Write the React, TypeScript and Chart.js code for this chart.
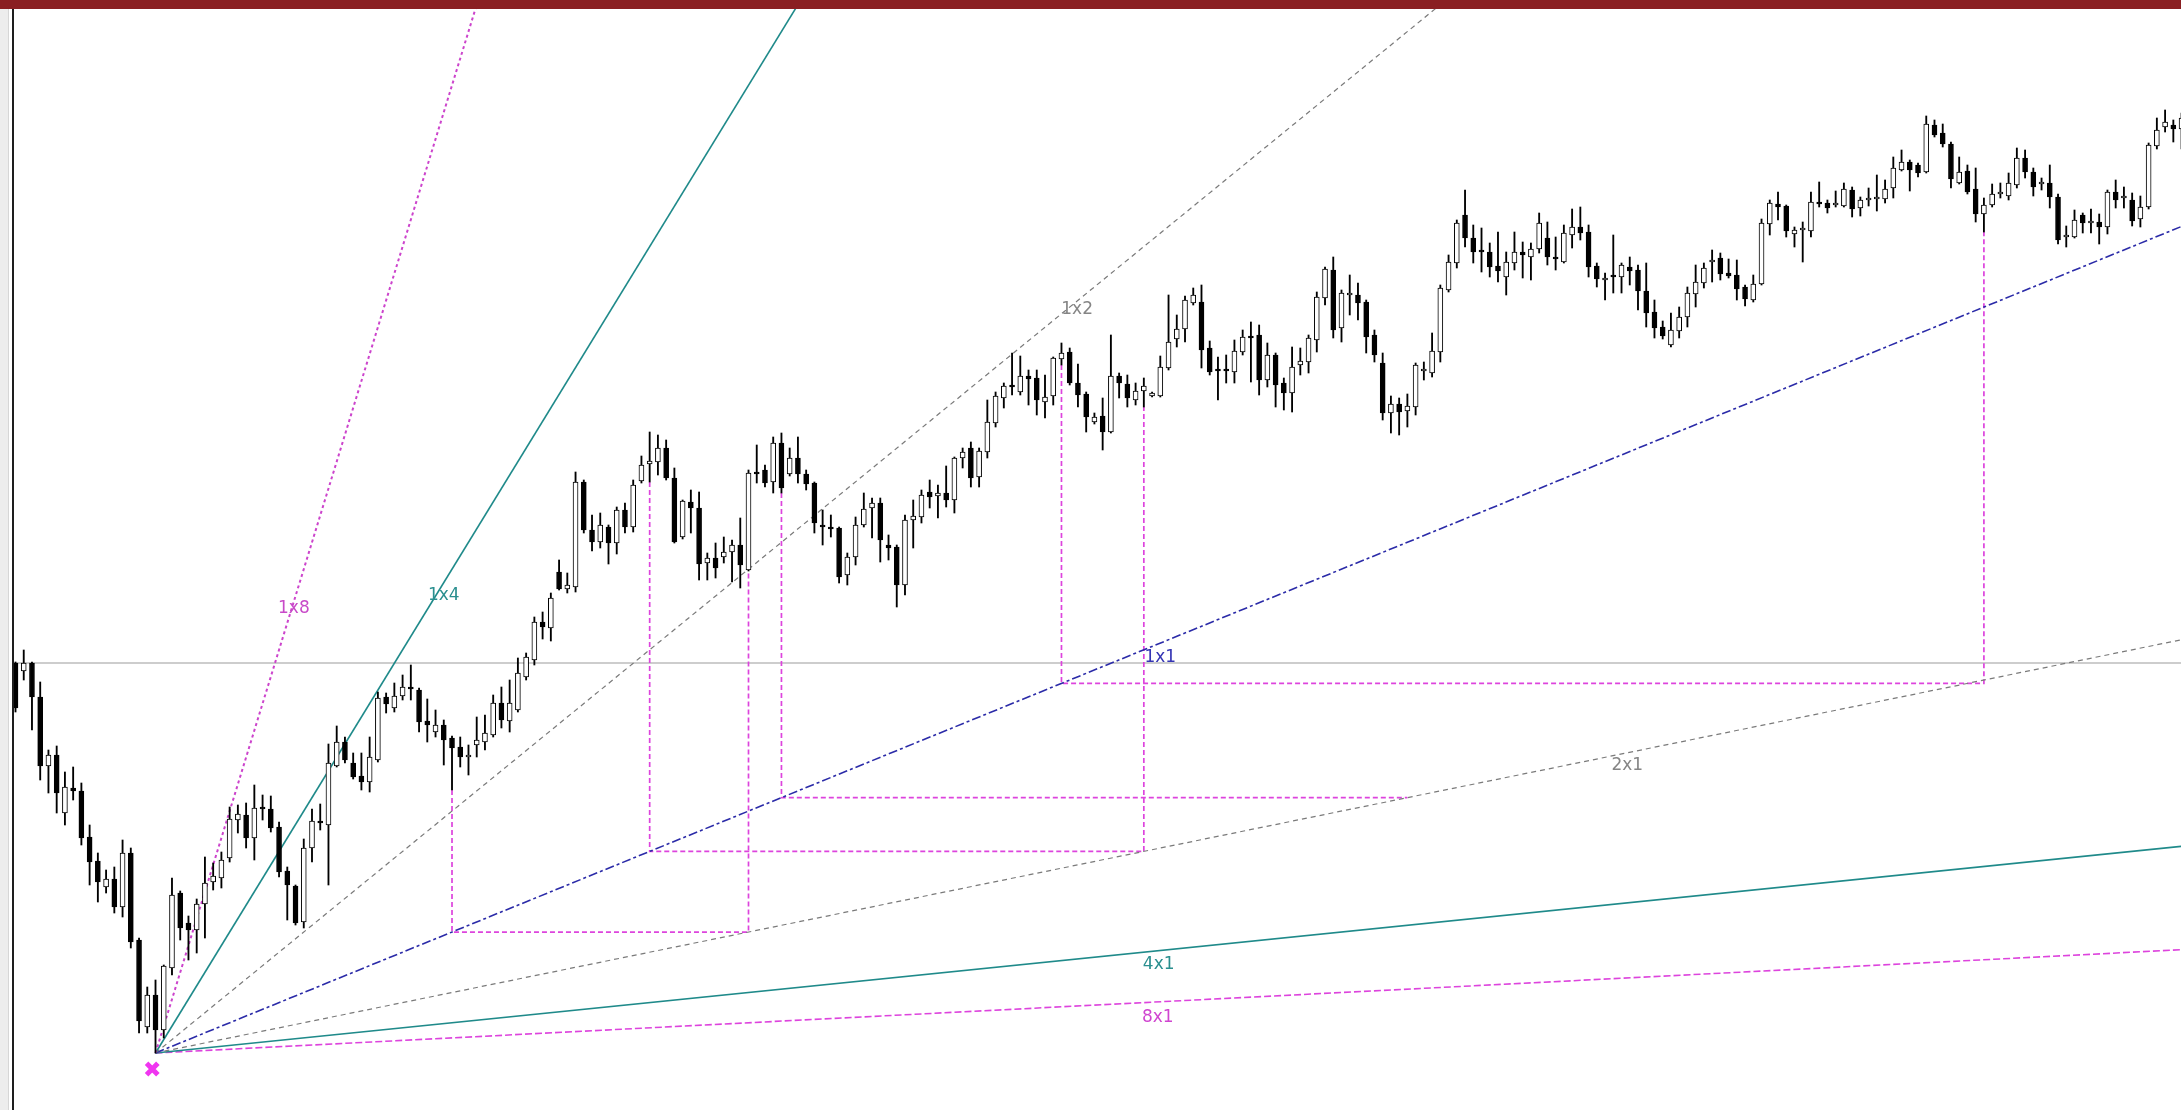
import React, { useEffect, useRef } from 'react';
import { Chart, registerables } from 'chart.js';

Chart.register(...registerables);

// ---- Candle data (price units, one entry per bar) ----
const opens = [
  447, 439, 447, 413, 344, 355, 297, 322, 319, 273,
  249, 223, 231, 203, 257, 170, 83, 115, 80, 142,
  217, 187, 180, 206, 228, 232, 252, 290, 295, 272,
  302, 301, 283, 239, 224, 188, 262, 289, 285, 344,
  368, 347, 334, 328, 350, 413, 402, 414, 423, 420,
  389, 378, 385, 372, 363, 353, 365, 368, 375, 407,
  389, 400, 433, 450, 488, 482, 538, 521, 523, 628,
  580, 568, 583, 567, 600, 583, 629, 646, 648, 662,
  632, 573, 608, 602, 547, 552, 553, 558, 565, 540,
  637, 640, 628, 667, 636, 652, 636, 627, 585, 582,
  582, 535, 553, 585, 602, 607, 565, 563, 525, 590,
  593, 618, 614, 617, 610, 652, 662, 633, 658, 687,
  712, 725, 718, 734, 732, 708, 714, 751, 758, 727,
  716, 688, 694, 678, 734, 726, 710, 719, 714, 714,
  742, 771, 781, 807, 808, 762, 740, 741, 738, 758,
  773, 775, 730, 755, 727, 717, 745, 748, 770, 812,
  840, 782, 815, 815, 808, 775, 747, 697, 706, 699,
  703, 739, 737, 758, 820, 847, 895, 872, 860, 858,
  844, 833, 847, 858, 853, 861, 872, 852, 848, 875,
  883, 878, 844, 830, 835, 833, 843, 840, 819, 798,
  783, 765, 779, 793, 816, 827, 848, 852, 837, 835,
  823, 810, 826, 886, 906, 904, 876, 880, 879, 908,
  907, 905, 904, 920, 902, 910, 911, 911, 922, 940,
  948, 945, 938, 985, 977, 966, 927, 939, 921, 896,
  905, 916, 914, 925, 952, 938, 926, 927, 913, 873,
  873, 895, 887, 888, 883, 918, 912, 910, 891, 903,
  964, 983, 985, 981,
];

const highs = [
  448, 460, 448, 428, 360, 364, 338, 343, 327, 285,
  257, 240, 243, 270, 262, 172, 123, 130, 145, 232,
  219, 194, 211, 253, 247, 258, 303, 305, 307, 325,
  315, 314, 288, 243, 225, 271, 301, 306, 366, 384,
  373, 357, 357, 373, 418, 417, 427, 435, 445, 422,
  411, 400, 390, 374, 373, 365, 393, 395, 415, 423,
  430, 452, 457, 493, 498, 517, 550, 537, 638, 630,
  595, 597, 585, 603, 607, 630, 654, 678, 675, 670,
  642, 610, 620, 618, 557, 567, 573, 570, 592, 640,
  665, 645, 673, 677, 662, 673, 640, 628, 600, 595,
  583, 557, 593, 617, 612, 612, 575, 565, 595, 610,
  620, 630, 625, 644, 653, 662, 668, 662, 710, 718,
  727, 757, 754, 740, 740, 735, 753, 767, 762, 746,
  718, 697, 712, 775, 737, 735, 727, 732, 718, 754,
  815, 795, 814, 822, 825, 769, 753, 755, 770, 780,
  788, 785, 767, 757, 732, 763, 762, 775, 818, 843,
  853, 820, 835, 827, 810, 780, 757, 714, 712, 716,
  747, 748, 777, 825, 855, 890, 920, 885, 882, 867,
  878, 858, 878, 868, 867, 897, 888, 873, 885, 901,
  903, 885, 847, 837, 875, 847, 853, 845, 847, 810,
  789, 797, 803, 823, 845, 847, 860, 857, 851, 850,
  825, 835, 891, 910, 918, 905, 883, 888, 918, 928,
  910, 919, 927, 923, 913, 922, 935, 930, 953, 960,
  950, 947, 994, 990, 986, 968, 953, 945, 942, 912,
  926, 927, 937, 962, 960, 942, 932, 945, 916, 884,
  900, 897, 901, 896, 920, 930, 923, 917, 914, 967,
  992, 1000, 990, 997,
];

const lows = [
  398, 430, 380, 330, 317, 297, 285, 310, 265, 225,
  208, 217, 197, 193, 162, 77, 77, 57, 72, 135,
  170, 150, 157, 172, 220, 222, 248, 277, 262, 250,
  290, 278, 233, 190, 185, 182, 248, 280, 225, 343,
  347, 331, 320, 318, 348, 397, 398, 410, 410, 378,
  368, 373, 345, 320, 343, 335, 353, 360, 373, 382,
  378, 398, 430, 445, 471, 469, 520, 517, 518, 577,
  559, 562, 546, 556, 577, 578, 627, 628, 635, 630,
  567, 571, 577, 530, 530, 532, 547, 528, 522, 539,
  627, 623, 617, 617, 634, 627, 620, 577, 565, 573,
  527, 525, 545, 583, 572, 548, 550, 503, 515, 562,
  587, 602, 592, 603, 597, 642, 623, 623, 652, 683,
  702, 715, 715, 705, 695, 692, 705, 745, 725, 703,
  678, 686, 660, 677, 712, 703, 705, 703, 713, 713,
  740, 763, 768, 805, 742, 735, 710, 727, 727, 755,
  728, 715, 723, 703, 700, 698, 735, 737, 758, 805,
  772, 768, 795, 790, 757, 748, 690, 677, 675, 683,
  695, 730, 733, 748, 818, 842, 863, 847, 838, 833,
  828, 815, 840, 832, 830, 857, 845, 840, 847, 862,
  870, 833, 823, 810, 817, 817, 825, 800, 783, 772,
  771, 763, 772, 783, 803, 822, 828, 830, 832, 810,
  804, 808, 825, 875, 890, 873, 863, 848, 873, 903,
  897, 903, 903, 893, 894, 904, 899, 907, 912, 939,
  919, 933, 937, 973, 963, 922, 926, 916, 888, 878,
  903, 912, 910, 922, 932, 914, 920, 902, 866, 863,
  872, 877, 877, 866, 876, 902, 902, 884, 883, 901,
  961, 978, 968, 961,
];

const closes = [
  402, 447, 413, 344, 355, 317, 323, 319, 272, 248,
  228, 231, 203, 257, 168, 89, 115, 80, 144, 215,
  182, 180, 206, 227, 234, 250, 291, 296, 272, 302,
  301, 282, 238, 225, 187, 262, 289, 287, 347, 368,
  350, 333, 328, 353, 412, 406, 414, 423, 421, 388,
  385, 385, 370, 362, 353, 353, 370, 377, 407, 390,
  407, 437, 453, 488, 483, 512, 521, 525, 628, 580,
  568, 585, 567, 600, 583, 625, 645, 649, 662, 632,
  568, 609, 602, 546, 552, 542, 558, 565, 545, 637,
  636, 627, 667, 622, 652, 636, 626, 587, 583, 581,
  533, 553, 585, 601, 607, 570, 562, 525, 590, 594,
  615, 613, 617, 610, 652, 658, 632, 659, 688, 714,
  724, 723, 734, 731, 710, 713, 752, 757, 727, 715,
  693, 693, 678, 734, 727, 712, 719, 724, 717, 743,
  768, 781, 810, 815, 760, 738, 739, 739, 759, 773,
  772, 730, 755, 725, 717, 743, 749, 772, 813, 841,
  780, 817, 815, 807, 773, 755, 697, 706, 698, 704,
  745, 739, 759, 822, 848, 887, 872, 858, 858, 843,
  839, 848, 858, 855, 861, 887, 853, 851, 877, 883,
  877, 843, 831, 830, 833, 845, 839, 819, 797, 782,
  774, 780, 793, 817, 828, 842, 848, 836, 834, 821,
  811, 826, 887, 907, 903, 879, 880, 880, 908, 906,
  902, 905, 921, 901, 910, 910, 912, 921, 942, 948,
  940, 937, 986, 975, 966, 931, 938, 918, 896, 905,
  916, 916, 927, 952, 938, 923, 926, 913, 870, 873,
  890, 887, 887, 883, 918, 910, 912, 889, 903, 965,
  980, 988, 981, 992,
];

// ---- Gann fan ----
const fanNames = ['1x8', '1x4', '1x2', '1x1', '2x1', '4x1', '8x1'];
const fanMultipliers = [8, 4, 2, 1, 0.5, 0.25, 0.125];
const originBar = 17; // bar of the swing low the fan starts from
const unitPerBar = 3.36; // 1x1 price change per bar

// ---- Manual guide lines (bar indices) ----
const guideStartBars = [53, 77, 93, 127];
const guideEndBars = [89, 137, 169, 239];
const guideRises = [true, true, false, true];

// ---- Horizontal level ----
const levelPrices = [447];

// ---- Layout / style configuration ----
const W = 2181;
const H = 1110;
const BAR_SPACING = 8.236;
const FIRST_X = 15.5;
const X_MIN = -FIRST_X / BAR_SPACING;
const X_MAX = (W - FIRST_X) / BAR_SPACING;
const Y_MIN = 0;
const Y_MAX = 1110;

const fanStyles = [
  { color: '#CC44CC', width: 2, dash: [3, 3] },
  { color: '#1F8A8A', width: 1.6, dash: [] as number[] },
  { color: '#7A7A7A', width: 1.2, dash: [5, 4] },
  { color: '#2B2BA8', width: 1.6, dash: [9, 3, 3, 3] },
  { color: '#7A7A7A', width: 1.2, dash: [5, 4] },
  { color: '#1F8A8A', width: 1.6, dash: [] as number[] },
  { color: '#DD44DD', width: 1.6, dash: [7, 3] },
];

const labelPlacement = [
  { bar: 33.8, dy: 7, color: '#C84AC8' },
  { bar: 52.0, dy: 13, color: '#2A8F8F' },
  { bar: 128.9, dy: 9, color: '#858585' },
  { bar: 139.0, dy: 14, color: '#3434B4' },
  { bar: 195.7, dy: 13, color: '#858585' },
  { bar: 138.8, dy: 14, color: '#2A8F8F' },
  { bar: 138.7, dy: 16, color: '#D045D0' },
];

const MARKER_DROP = 16;
const MARKER_SHIFT = -0.4;

const p0 = lows[originBar];
const fanValue = (m: number, bar: number) => p0 + m * unitPerBar * (bar - originBar);

function buildDatasets(): any[] {
  const ds: any[] = [];

  // marker under the fan origin
  ds.push({
    type: 'line',
    data: [{ x: originBar + MARKER_SHIFT, y: p0 - MARKER_DROP }],
    showLine: false,
    pointStyle: 'crossRot',
    pointRadius: 8,
    pointBorderWidth: 5,
    pointBorderColor: '#F035F0',
    pointBackgroundColor: '#F035F0',
    order: 0,
  });

  // candle bodies
  ds.push({
    type: 'bar',
    data: opens.map((o, i) => ({ x: i, y: [Math.min(o, closes[i]), Math.max(o, closes[i])] })),
    backgroundColor: opens.map((o, i) => (closes[i] >= o ? '#ffffff' : '#000000')),
    borderColor: '#000000',
    borderWidth: 1,
    borderSkipped: false,
    barThickness: 5,
    minBarLength: 2,
    grouped: false,
    order: 1,
  });

  // wicks
  ds.push({
    type: 'bar',
    data: lows.map((l, i) => ({ x: i, y: [l, highs[i]] })),
    backgroundColor: '#000000',
    borderWidth: 0,
    barThickness: 1.2,
    grouped: false,
    order: 2,
  });

  // fan lines
  fanMultipliers.forEach((m, k) => {
    const endBar = Math.min(X_MAX + 1, originBar + (Y_MAX + 40 - p0) / (m * unitPerBar));
    const st = fanStyles[k];
    ds.push({
      type: 'line',
      label: fanNames[k],
      data: [
        { x: originBar, y: p0 },
        { x: endBar, y: fanValue(m, endBar) },
      ],
      borderColor: st.color,
      borderWidth: st.width,
      borderDash: st.dash,
      pointRadius: 0,
      fill: false,
      tension: 0,
      order: 10 + k,
    });
  });

  // guides
  guideStartBars.forEach((s, g) => {
    const e = guideEndBars[g];
    const level = fanValue(1, s);
    const pts = [
      { x: s, y: lows[s] },
      { x: s, y: level },
      { x: e, y: level },
    ];
    if (guideRises[g]) pts.push({ x: e, y: lows[e] });
    ds.push({
      type: 'line',
      data: pts,
      borderColor: '#DD44DD',
      borderWidth: 1.7,
      borderDash: [5, 3],
      pointRadius: 0,
      fill: false,
      tension: 0,
      order: 20 + g,
    });
  });

  // horizontal levels
  levelPrices.forEach((lv, j) => {
    ds.push({
      type: 'line',
      data: [
        { x: X_MIN - 1, y: lv },
        { x: X_MAX + 1, y: lv },
      ],
      borderColor: '#BDBDBD',
      borderWidth: 1.3,
      pointRadius: 0,
      fill: false,
      order: 30 + j,
    });
  });

  return ds;
}

const fanLabelPlugin = {
  id: 'fanLabels',
  afterDatasetsDraw(chart: any) {
    const { ctx, scales } = chart;
    const xs = scales.x;
    const ys = scales.y;
    ctx.save();
    ctx.font = '17px "DejaVu Sans", Verdana, sans-serif';
    ctx.textAlign = 'center';
    ctx.textBaseline = 'middle';
    fanNames.forEach((name, k) => {
      const lp = labelPlacement[k];
      const px = xs.getPixelForValue(lp.bar);
      const py = ys.getPixelForValue(fanValue(fanMultipliers[k], lp.bar)) + lp.dy;
      ctx.fillStyle = lp.color;
      ctx.fillText(name, px, py);
    });
    ctx.restore();
  },
};

const framePlugin = {
  id: 'frame',
  beforeDraw(chart: any) {
    const { ctx } = chart;
    ctx.save();
    ctx.fillStyle = '#ffffff';
    ctx.fillRect(0, 0, W, H);
    ctx.restore();
  },
  afterDraw(chart: any) {
    const { ctx } = chart;
    ctx.save();
    ctx.fillStyle = '#EDEDED';
    ctx.fillRect(0, 9, 8, H - 9);
    ctx.fillStyle = '#D6D6D6';
    ctx.fillRect(8, 9, 1, H - 9);
    ctx.fillStyle = '#ffffff';
    ctx.fillRect(9, 9, 3, H - 9);
    ctx.fillStyle = '#1E1E1E';
    ctx.fillRect(12, 9, 2, H - 9);
    ctx.fillStyle = '#8A1F22';
    ctx.fillRect(0, 0, W, 9);
    ctx.restore();
  },
};

export default function App() {
  const ref = useRef<HTMLCanvasElement | null>(null);

  useEffect(() => {
    document.body.style.margin = '0';
    const canvas = ref.current;
    if (!canvas) return;
    const chart = new Chart(canvas, {
      type: 'bar',
      data: { datasets: buildDatasets() },
      options: {
        responsive: false,
        animation: false,
        devicePixelRatio: 1,
        events: [],
        layout: { padding: 0, autoPadding: false },
        plugins: {
          legend: { display: false },
          tooltip: { enabled: false },
          title: { display: false },
        },
        scales: {
          x: {
            type: 'linear',
            min: X_MIN,
            max: X_MAX,
            offset: false,
            display: false,
            grid: { display: false },
          },
          y: {
            type: 'linear',
            min: Y_MIN,
            max: Y_MAX,
            display: false,
            grid: { display: false },
          },
        },
      } as any,
      plugins: [framePlugin, fanLabelPlugin],
    } as any);
    return () => chart.destroy();
  }, []);

  return (
    <div style={{ position: 'absolute', left: 0, top: 0, width: W, height: H, background: '#ffffff' }}>
      <canvas ref={ref} width={W} height={H} style={{ display: 'block', width: W, height: H }} />
    </div>
  );
}
